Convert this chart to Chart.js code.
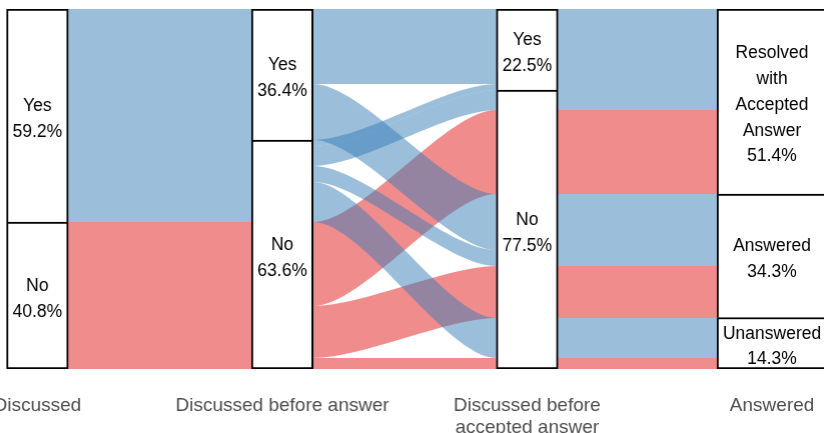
<!DOCTYPE html>
<html>
<head>
<meta charset="utf-8">
<script src="https://cdn.jsdelivr.net/npm/chart.js@4.4.1/dist/chart.umd.min.js"></script>
<style>
  html, body { margin: 0; padding: 0; background: #fff; overflow: hidden; }
  #wrap { position: absolute; left: -84.8px; top: 0; width: 978.4px; height: 433px; }
</style>
</head>
<body>
<div id="wrap"><canvas id="alluvial"></canvas></div>
<script>
// axes of the alluvial plot
const axisNames = ["Discussed", "Discussed before answer", "Discussed before accepted answer", "Answered"];
const axisTickLines = [["Discussed"], ["Discussed before answer"], ["Discussed before", "accepted answer"], ["Answered"]];

// strata on each axis (top to bottom) and their share in %
const discussedLevels = [["Yes"], ["No"]];
const discussedPct = [59.2, 40.8];
const beforeAnswerLevels = [["Yes"], ["No"]];
const beforeAnswerPct = [36.4, 63.6];
const beforeAcceptedLevels = [["Yes"], ["No"]];
const beforeAcceptedPct = [22.5, 77.5];
const answeredLevels = [["Resolved", "with", "Accepted", "Answer"], ["Answered"], ["Unanswered"]];
const answeredPct = [51.4, 34.3, 14.3];

// alluvia: share in % and colour group (value of "Discussed")
const flowPct = [20.8, 15.6, 1.7, 5.5, 4.4, 11.2, 23.4, 14.3, 3.1];
const flowGroup = ["Yes", "Yes", "Yes", "Yes", "Yes", "Yes", "No", "No", "No"];
// stacking order of the alluvia on each axis, top to bottom
const flowOrder = [
    [0, 1, 2, 3, 4, 5, 6, 7, 8],
    [0, 1, 2, 3, 4, 5, 6, 7, 8],
    [0, 2, 3, 6, 1, 4, 7, 5, 8],
    [0, 2, 3, 6, 1, 4, 7, 5, 8]
];

const axisLevels = [discussedLevels, beforeAnswerLevels, beforeAcceptedLevels, answeredLevels];
const axisPct = [discussedPct, beforeAnswerPct, beforeAcceptedPct, answeredPct];
const boxWidths = [61.6, 61.6, 61.6, 110];

const flowColours = { Yes: "rgba(55,126,184,0.5)", No: "rgba(228,26,28,0.5)" };
const FONT = "'Liberation Sans', Arial, Helvetica, sans-serif";

function stack(pcts) {
    let acc = 0;
    return pcts.map(p => { const r = [acc, acc + p]; acc += p; return r; });
}

const datasets = axisNames.map((name, a) => {
    const n = axisPct[a].length;
    return {
        data: stack(axisPct[a]).map(r => ({ x: name, y: r })),
        backgroundColor: "#ffffff",
        borderColor: "#000000",
        borderSkipped: false,
        borderWidth: c => ({ top: 2, left: 2, right: 2, bottom: c.dataIndex === n - 1 ? 2 : 0 }),
        barThickness: boxWidths[a],
        grouped: false
    };
});

const flowPlugin = {
    id: "flows",
    beforeDatasetsDraw(chart) {
        const ctx = chart.ctx;
        const ys = chart.scales.y;
        const area = chart.chartArea;
        const edges = chart.data.datasets.map((d, i) => {
            const el = chart.getDatasetMeta(i).data[0];
            return [el.x - el.width / 2, el.x + el.width / 2];
        });
        const tops = flowOrder.map(order => {
            const t = [];
            let acc = 0;
            order.forEach(f => { t[f] = acc; acc += flowPct[f]; });
            return t;
        });
        const px = v => Math.round(ys.getPixelForValue(v));

        ctx.save();
        ctx.beginPath();
        ctx.rect(area.left, area.top, area.right - area.left, area.bottom - area.top);
        ctx.clip();
        ["No", "Yes"].forEach(g => {
            flowPct.forEach((p, f) => {
                if (flowGroup[f] !== g) return;
                ctx.fillStyle = flowColours[g];
                for (let a = 0; a < axisNames.length - 1; a++) {
                    const x0 = edges[a][1], x1 = edges[a + 1][0];
                    const t0 = px(tops[a][f]), b0 = px(tops[a][f] + p);
                    const t1 = px(tops[a + 1][f]), b1 = px(tops[a + 1][f] + p);
                    const k = (x1 - x0) * 0.27;
                    ctx.beginPath();
                    ctx.moveTo(x0 - 3, t0);
                    ctx.lineTo(x0, t0);
                    ctx.bezierCurveTo(x0 + k, t0, x1 - k, t1, x1, t1);
                    ctx.lineTo(x1 + 3, t1);
                    ctx.lineTo(x1 + 3, b1);
                    ctx.lineTo(x1, b1);
                    ctx.bezierCurveTo(x1 - k, b1, x0 + k, b0, x0, b0);
                    ctx.lineTo(x0 - 3, b0);
                    ctx.closePath();
                    ctx.fill();
                }
            });
        });
        ctx.restore();
    }
};

const labelPlugin = {
    id: "stratumLabels",
    afterDatasetsDraw(chart) {
        const ctx = chart.ctx;
        ctx.save();
        ctx.fillStyle = "#000000";
        ctx.font = "17.5px " + FONT;
        ctx.textAlign = "center";
        ctx.textBaseline = "middle";
        chart.data.datasets.forEach((d, a) => {
            chart.getDatasetMeta(a).data.forEach((el, j) => {
                const lines = axisLevels[a][j].concat(axisPct[a][j].toFixed(1) + "%");
                const cy = (el.y + el.base) / 2 + 3.5;
                const lh = 25.8;
                lines.forEach((line, i) => {
                    ctx.fillText(line, el.x, cy + (i - (lines.length - 1) / 2) * lh);
                });
            });
        });
        ctx.restore();
    }
};

new Chart(document.getElementById("alluvial"), {
    type: "bar",
    data: { labels: axisNames, datasets: datasets },
    options: {
        responsive: true,
        maintainAspectRatio: false,
        animation: false,
        layout: { padding: { top: 9, left: 0, right: 0, bottom: 0 } },
        plugins: { legend: { display: false }, tooltip: { enabled: false } },
        scales: {
            x: {
                grid: { display: false },
                border: { display: false },
                ticks: {
                    autoSkip: false,
                    maxRotation: 0,
                    minRotation: 0,
                    padding: 18,
                    color: "#4d4d4d",
                    font: { family: FONT, size: 19, lineHeight: 1.15 },
                    callback: (v, i) => axisTickLines[i]
                },
                afterFit: s => { s.height = 64; }
            },
            y: {
                display: false,
                min: 0,
                max: 100,
                reverse: true
            }
        }
    },
    plugins: [flowPlugin, labelPlugin]
});
</script>
</body>
</html>
